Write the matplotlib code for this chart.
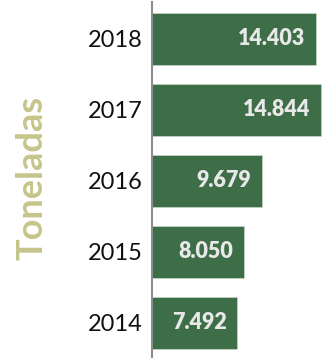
import matplotlib
matplotlib.use('Agg')
import matplotlib.pyplot as plt

# datos
anios = ['2014', '2015', '2016', '2017', '2018']
toneladas = [7492, 8050, 9679, 14844, 14403]
etiquetas = ['7.492', '8.050', '9.679', '14.844', '14.403']

verde = '#3e6e48'

fig = plt.figure(figsize=[3.22, 3.58], dpi=100)
ax = fig.add_axes([152/322, 0, 1 - 152/322, 356/358])

pos = range(len(anios))
ax.barh(pos, toneladas, height=0.73, color=verde, edgecolor='#c9d6c9', linewidth=0.5)

for p, v, t in zip(pos, toneladas, etiquetas):
    ax.text(v - 950, p, t, ha='right', va='center', color='#e8e8e8',
            fontsize=15.5, fontweight='heavy', family='Lato')

ax.set_xlim(0, 14925)
ax.set_ylim(-0.493, 4.521)
ax.set_yticks(list(pos))
ax.set_yticklabels(anios, fontsize=17, family='Lato', color='#111111')
ax.tick_params(axis='y', length=0, pad=7)
ax.set_xticks([])

for s in ['top', 'right', 'bottom']:
    ax.spines[s].set_visible(False)
ax.spines['left'].set_color('#8c8c8c')
ax.spines['left'].set_linewidth(1.5)

fig.text(32/322, 1 - 178/358, 'Toneladas', rotation=90, ha='center', va='center',
         color='#c5c58b', fontsize=26, fontweight='bold', family='Lato')

plt.savefig('out.png', dpi=100)
